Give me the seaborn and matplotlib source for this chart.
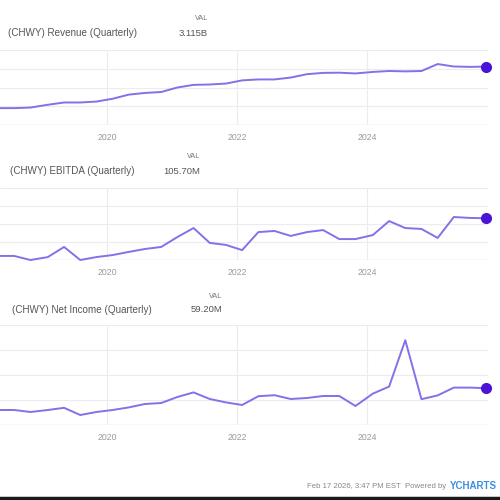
import numpy as np
import pandas as pd
import matplotlib
matplotlib.use("Agg")
import matplotlib.pyplot as plt
import matplotlib.dates as mdates
from matplotlib.lines import Line2D
import seaborn as sns

# fiscal quarter ends
quarter_ends = [
    "2018-01-28", "2018-04-29", "2018-07-29", "2018-10-28", "2019-02-03",
    "2019-05-05", "2019-08-04", "2019-11-03", "2020-02-02",
    "2020-05-03", "2020-08-02", "2020-11-01", "2021-01-31",
    "2021-05-02", "2021-08-01", "2021-10-31", "2022-01-30",
    "2022-05-01", "2022-07-31", "2022-10-30", "2023-01-29",
    "2023-04-30", "2023-07-30", "2023-10-29", "2024-02-04",
    "2024-05-05", "2024-08-04", "2024-11-03", "2025-02-02",
    "2025-05-04", "2025-08-03", "2025-11-02",
]

# revenue in billions
revenue = [
    0.80, 0.90, 0.90, 0.93, 1.08,
    1.20, 1.20, 1.25, 1.40,
    1.62, 1.71, 1.76, 2.00,
    2.14, 2.16, 2.21, 2.38,
    2.43, 2.43, 2.53, 2.71,
    2.78, 2.79, 2.75, 2.83,
    2.88, 2.86, 2.88, 3.25,
    3.12, 3.10, 3.115,
]

# EBITDA in millions
ebitda = [
    -60, -62, -62, -80, -67,
    -22, -80, -67, -58,
    -44, -31, -22, 22,
    62, -4, -13, -36,
    44, 49, 27, 44,
    53, 13, 13, 31,
    93, 62, 58, 18,
    111, 107, 105.7,
]

# net income in millions
net_income = [
    -60, -50, -50, -60, -50,
    -39, -75, -60, -50,
    -37, -20, -15, 15,
    38, 5, -12, -25,
    19, 24, 5, 10,
    20, 20, -30, 32,
    67, 299, 4, 23,
    62, 62, 59.2,
]

titles = [
    "(CHWY) Revenue (Quarterly)",
    "(CHWY) EBITDA (Quarterly)",
    "(CHWY) Net Income (Quarterly)",
]
last_vals = ["3.115B", "105.70M", "59.20M"]
ytick_sets = [
    [0, 1, 2, 3, 4],
    [-80, 0, 80, 160, 240],
    [-125, 0, 125, 250, 375],
]

dates = pd.to_datetime(quarter_ends)
series = [revenue, ebitda, net_income]

sns.set_theme(style="white")
plt.rcParams["font.family"] = ["Liberation Sans", "DejaVu Sans"]

W = H = 500.0
fig = plt.figure(figsize=(5, 5), dpi=100)

line_col = "#8470e8"
dot_col = "#4a14d4"
grid_col = "#ebebf0"
tick_col = "#9a9a9a"

# (top px, bottom px) of each plot area, title y, title right end, value right edge
boxes = [(50, 125), (188, 260), (325, 425)]
title_y = [33, 171, 310]
title_end = [137, 135, 152]
val_right = [208, 200, 222]

x_left = pd.Timestamp("2018-05-10")
x_right = pd.Timestamp("2025-11-12")

for i, vals in enumerate(series):
    top, bot = boxes[i]
    ax = fig.add_axes([0, 1 - bot / H, 488 / W, (bot - top) / H])
    df = pd.DataFrame({"date": dates, "value": vals})
    sns.lineplot(data=df, x="date", y="value", ax=ax, color=line_col,
                 linewidth=1.4, clip_on=False)
    ax.plot(df["date"].iloc[-1], df["value"].iloc[-1], "o", color=dot_col,
            markersize=7, clip_on=False, zorder=5)

    ax.set_xlim(x_left, x_right)
    ax.set_ylim(ytick_sets[i][0], ytick_sets[i][-1])
    ax.set_yticks(ytick_sets[i])
    ax.set_yticklabels([])
    ax.xaxis.set_major_locator(mdates.YearLocator(2))
    ax.xaxis.set_major_formatter(mdates.DateFormatter("%Y"))
    ax.tick_params(axis="x", length=0, pad=6, labelsize=6.3, labelcolor=tick_col)
    ax.tick_params(axis="y", length=0)
    ax.set_xlabel("")
    ax.set_ylabel("")
    ax.grid(True, color=grid_col, linewidth=0.8)
    for s in ax.spines.values():
        s.set_visible(False)
    ax.axhline(ytick_sets[i][0], color="#e4e4ea", linewidth=1.0, zorder=0)

    fig.text(title_end[i] / W, 1 - title_y[i] / H, titles[i], ha="right",
             va="center", fontsize=7.1, color="#555555")
    fig.text(val_right[i] / W, 1 - (title_y[i] - 14) / H, "VAL", ha="right",
             va="center", fontsize=5.2, color="#777777")
    fig.text(val_right[i] / W, 1 - title_y[i] / H, last_vals[i], ha="right",
             va="center", fontsize=6.8, color="#555555")

# footer
fig.text(446 / W, 1 - 487 / H, "Feb 17 2026, 3:47 PM EST  Powered by",
         ha="right", va="center", fontsize=5.6, color="#888888")
fig.text(497 / W, 1 - 486 / H, "YCHARTS", ha="right", va="center",
         fontsize=7, fontweight="bold", color="#3d8fe0")
fig.add_artist(Line2D([0, 1], [0.004, 0.004], color="#1a1a1a", linewidth=2.5))

fig.savefig("out.png", dpi=100, facecolor="white")
